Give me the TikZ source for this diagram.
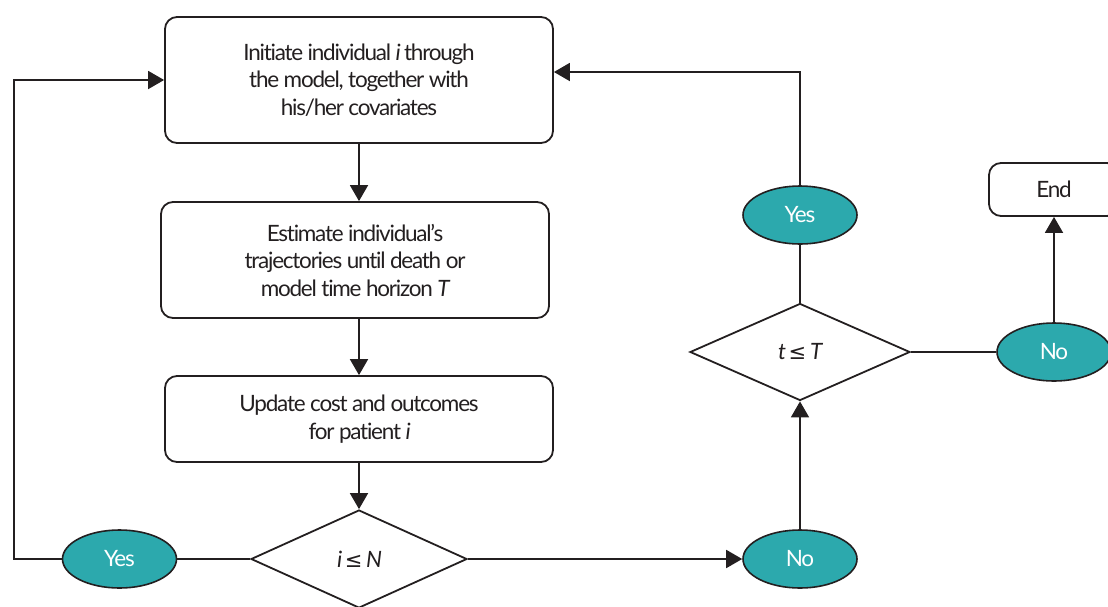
\documentclass[tikz,border=0pt]{standalone}
\usepackage{fontspec}
\setmainfont{Lato}[Ligatures=NoCommon, LetterSpace=-5.5]
\newfontfamily\symfont{DejaVu Sans}[Scale=1]
\usetikzlibrary{shapes.geometric,arrows.meta}
\definecolor{ink}{HTML}{231F20}
\definecolor{tealfill}{HTML}{2CA9AD}
\newcommand{\leqsym}{{\symfont\fontsize{21}{21}\selectfont ≤}}
\begin{document}
\begin{tikzpicture}[x=1pt,y=-1pt,
  font=\fontsize{22.5}{27.5}\selectfont,
  procbox/.style={draw=ink, line width=1.8pt, rounded corners=12pt, align=center,
    text=ink, inner sep=0pt, minimum width=388pt},
  decision/.style={diamond, draw=ink, line width=1.8pt, text=ink, inner sep=0pt},
  answer/.style={ellipse, draw=ink, line width=1.6pt, fill=tealfill, text=white,
    inner sep=0pt, minimum width=114pt, minimum height=58pt},
  link/.style={draw=ink, line width=1.8pt},
  arrowlink/.style={link, -{Triangle[length=16pt,width=18pt]}}]
\useasboundingbox (0,0) rectangle (1108,606);

% process boxes
\node[procbox, minimum height=126pt] (init) at (359,80)
  {Initiate individual \textit{i} through\\the model, together with\\his/her covariates};
\node[procbox, minimum height=116pt] (est) at (355,260)
  {Estimate individual’s\\trajectories until death or\\model time horizon \textit{T}};
\node[procbox, minimum height=86pt] (upd) at (359,419)
  {Update cost and outcomes\\for patient \textit{i}};

% decisions
\node[decision, minimum width=216pt, minimum height=98pt] (d1) at (359,559)
  {\textit{i}\,\leqsym\,\textit{N}};
\node[decision, minimum width=220pt, minimum height=97pt] (d2) at (800,352)
  {\textit{t}\,\leqsym\,\textit{T}};

% answers
\node[answer] (yes1) at (119.5,559) {Yes};
\node[answer] (no1) at (800,559) {No};
\node[answer] (yes2) at (800,215) {Yes};
\node[answer] (no2) at (1054,352) {No};

% end box
\node[procbox, minimum width=130pt, minimum height=53pt] (end) at (1054,189.5) {End};

\coordinate (loopx) at (14,559);

% connectors
\draw[arrowlink] (init.south) -- (init.south |- est.north);
\draw[arrowlink] (upd.north |- est.south) -- (upd.north);
\draw[arrowlink] (upd.south) -- (d1.north);
\draw[link] (d1.west) -- (yes1.east);
\draw[arrowlink] (yes1.west) -- (loopx) |- (init.west);
\draw[arrowlink] (d1.east) -- (no1.west);
\draw[arrowlink] (no1.north) -- (d2.south);
\draw[link] (d2.north) -- (yes2.south);
\draw[arrowlink] (yes2.north) |- ([yshift=8pt]init.east);
\draw[link] (d2.east) -- (no2.west);
\draw[arrowlink] (no2.north) -- (end.south);
\end{tikzpicture}
\end{document}
